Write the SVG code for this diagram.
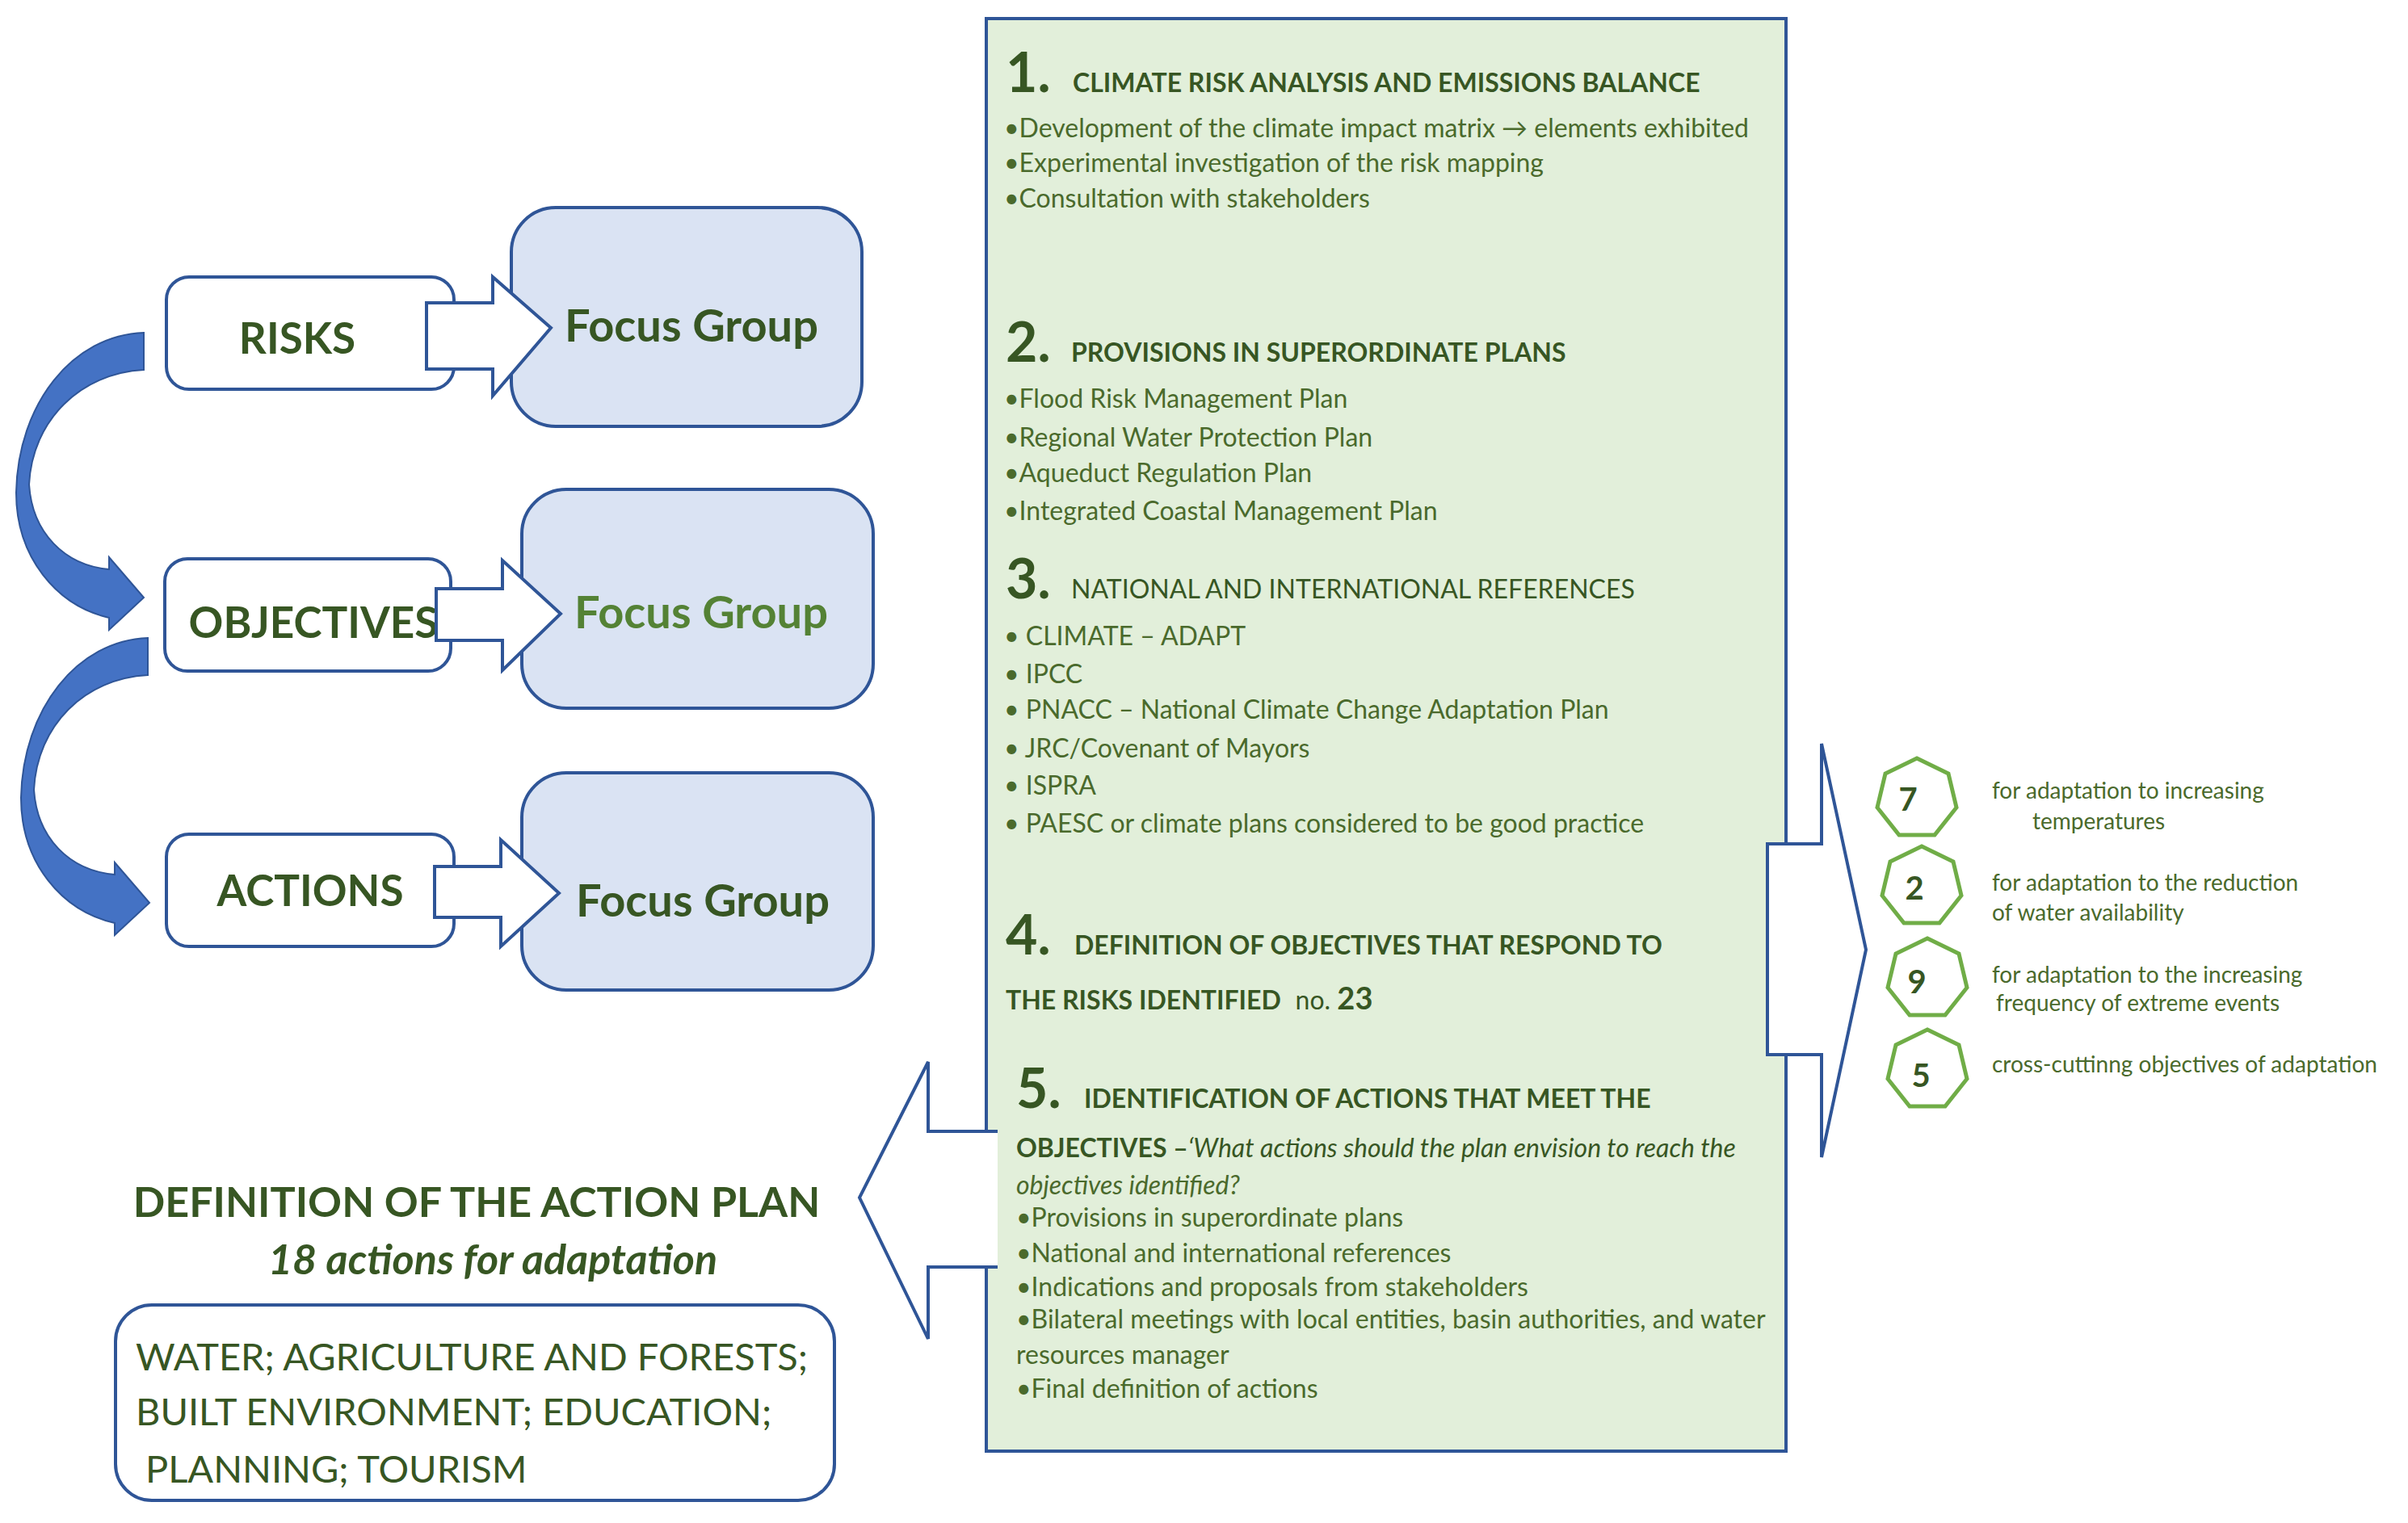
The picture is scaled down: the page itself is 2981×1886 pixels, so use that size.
<svg xmlns="http://www.w3.org/2000/svg" width="2981" height="1886" viewBox="0 0 2981 1886">
<style>
.bx{fill:#fff;stroke:#2f5597;stroke-width:4}
.fg{fill:#dae3f3;stroke:#2f5597;stroke-width:4}
.ar{fill:#fff;stroke:#2f5597;stroke-width:4;stroke-linejoin:miter}
.t{font-family:Lato,"Open Sans",sans-serif;fill:#375623}
.lb{font-size:53px;font-weight:bold;text-anchor:middle}
.fgt{font-size:56px;font-weight:bold;text-anchor:middle}
.num{font-size:68px;font-weight:bold}
.hd{font-size:32px;font-weight:bold}
.bl{font-size:32px;fill:#4a6a2c}
.hp{fill:#fff;stroke:#70ad47;stroke-width:5}
.hn{font-size:40px;font-weight:bold;text-anchor:middle}
.ht{font-size:28px;fill:#4a6a2c}
.curve{fill:#4472c4;stroke:#2f5597;stroke-width:2}
</style>
<rect x="0" y="0" width="2981" height="1886" fill="#fff"/>
<g id="main-box">
<rect x="1221" y="23" width="990" height="1774" fill="#e2efda" stroke="#2f5597" stroke-width="4"/>
<text class="t num" x="1245" y="114">1.</text>
<text class="t hd" x="1328" y="114">CLIMATE RISK ANALYSIS AND EMISSIONS BALANCE</text>
<text class="t bl" x="1243" y="170">•Development of the climate impact matrix → elements exhibited</text>
<text class="t bl" x="1243" y="213">•Experimental investigation of the risk mapping</text>
<text class="t bl" x="1243" y="257">•Consultation with stakeholders</text>
<text class="t num" x="1245" y="448">2.</text>
<text class="t hd" x="1326" y="448">PROVISIONS IN SUPERORDINATE PLANS</text>
<text class="t bl" x="1243" y="505">•Flood Risk Management Plan</text>
<text class="t bl" x="1243" y="553">•Regional Water Protection Plan</text>
<text class="t bl" x="1243" y="597">•Aqueduct Regulation Plan</text>
<text class="t bl" x="1243" y="644">•Integrated Coastal Management Plan</text>
<text class="t num" x="1245" y="741">3.</text>
<text class="t hd" x="1326" y="741" style="font-weight:normal">NATIONAL AND INTERNATIONAL REFERENCES</text>
<text class="t bl" x="1243" y="799">• CLIMATE – ADAPT</text>
<text class="t bl" x="1243" y="846">• IPCC</text>
<text class="t bl" x="1243" y="890">• PNACC – National Climate Change Adaptation Plan</text>
<text class="t bl" x="1243" y="938">• JRC/Covenant of Mayors</text>
<text class="t bl" x="1243" y="984">• ISPRA</text>
<text class="t bl" x="1243" y="1031">• PAESC or climate plans considered to be good practice</text>
<text class="t num" x="1245" y="1182">4.</text>
<text class="t hd" x="1330" y="1182" font-size="34">DEFINITION OF OBJECTIVES THAT RESPOND TO</text>
<text class="t hd" x="1245" y="1250" font-size="34">THE RISKS IDENTIFIED <tspan font-weight="normal" dx="10">no. </tspan><tspan font-size="38">23</tspan></text>
<text class="t num" x="1258" y="1372">5.</text>
<text class="t hd" x="1342" y="1372" font-size="35">IDENTIFICATION OF ACTIONS THAT MEET THE</text>
<text class="t hd" x="1258" y="1433">OBJECTIVES –<tspan font-style="italic" font-weight="normal">‘What actions should the plan envision to reach the</tspan></text>
<text class="t bl" x="1258" y="1479" font-style="italic">objectives identified?</text>
<text class="t bl" x="1258" y="1519">•Provisions in superordinate plans</text>
<text class="t bl" x="1258" y="1563">•National and international references</text>
<text class="t bl" x="1258" y="1605">•Indications and proposals from stakeholders</text>
<text class="t bl" x="1258" y="1645">•Bilateral meetings with local entities, basin authorities, and water</text>
<text class="t bl" x="1258" y="1689">resources manager</text>
<text class="t bl" x="1258" y="1731">•Final definition of actions</text>
</g>
<g id="risks"><rect class="bx" x="206" y="343" width="356" height="139" rx="28"/><text class="t lb" x="368" y="438">RISKS</text></g>
<g id="objectives"><rect class="bx" x="204" y="692" width="354" height="139" rx="28"/><text class="t lb" x="388" y="790">OBJECTIVES</text></g>
<g id="actions"><rect class="bx" x="206" y="1033" width="356" height="139" rx="28"/><text class="t lb" x="384" y="1122">ACTIONS</text></g>
<g id="fg1"><rect class="fg" x="633" y="257" width="434" height="271" rx="55"/><text class="t fgt" x="856" y="423">Focus Group</text></g>
<g id="fg2"><rect class="fg" x="646" y="606" width="435" height="271" rx="55"/><text class="t fgt" x="868" y="778" style="fill:#548235">Focus Group</text></g>
<g id="fg3"><rect class="fg" x="646" y="957" width="435" height="269" rx="55"/><text class="t fgt" x="870" y="1135">Focus Group</text></g>
<g id="hept7"><polygon class="hp" points="2373,939 2412,958 2422,1000 2395,1034 2351,1034 2324,1000 2334,958"/><text class="t hn" x="2362" y="1004">7</text>
<text class="t ht" x="2466" y="989">for adaptation to increasing</text><text class="t ht" x="2516" y="1027">temperatures</text></g>
<g id="hept2"><polygon class="hp" points="2379,1048 2418,1067 2428,1109 2401,1143 2357,1143 2330,1109 2340,1067"/><text class="t hn" x="2370" y="1114">2</text>
<text class="t ht" x="2466" y="1103">for adaptation to the reduction</text><text class="t ht" x="2466" y="1140">of water availability</text></g>
<g id="hept9"><polygon class="hp" points="2386,1162 2425,1181 2435,1223 2408,1257 2364,1257 2337,1223 2347,1181"/><text class="t hn" x="2373" y="1230">9</text>
<text class="t ht" x="2466" y="1217">for adaptation to the increasing</text><text class="t ht" x="2471" y="1252">frequency of extreme events</text></g>
<g id="hept5"><polygon class="hp" points="2386,1275 2425,1294 2435,1336 2408,1370 2364,1370 2337,1336 2347,1294"/><text class="t hn" x="2378" y="1346">5</text>
<text class="t ht" x="2466" y="1328">cross-cuttinng objectives of adaptation</text></g>
<g id="action-plan">
<text class="t" x="590" y="1507" font-size="52" font-weight="bold" text-anchor="middle">DEFINITION OF THE ACTION PLAN</text>
<text class="t" x="610" y="1578" font-size="52" font-weight="bold" font-style="italic" text-anchor="middle">18 actions for adaptation</text>
<rect class="bx" x="143" y="1616" width="890" height="242" rx="45"/>
<text class="t" x="168" y="1697" font-size="47">WATER; AGRICULTURE AND FORESTS;</text>
<text class="t" x="168" y="1765" font-size="47">BUILT ENVIRONMENT; EDUCATION;</text>
<text class="t" x="180" y="1836" font-size="47">PLANNING; TOURISM</text>
</g>
<g id="connectors">
<path class="ar" d="M2188,1045 H2255 V921 L2310,1176 L2255,1433 V1306 H2188 Z"/>
<path class="ar" d="M1235,1401 H1149 V1315 L1064,1483 L1149,1658 V1569 H1235"/>
<path class="ar" d="M528,375 H610 V343 L682,406 L610,490 V457 H528 Z"/>
<path class="ar" d="M540,729 H622 V694 L694,760 L622,830 V793 H540 Z"/>
<path class="ar" d="M538,1073 H620 V1040 L692,1106 L620,1172 V1136 H538 Z"/>
<path class="curve" d="M178,412 V458 C100,462 40,520 36,600 C40,660 80,700 135,705 V690 L178,740 L135,780 V765 C70,750 20,690 20,610 C22,500 90,415 178,412 Z"/>
<path class="curve" d="M183,790 V836 C105,840 46,898 42,978 C46,1038 86,1078 142,1083 V1068 L185,1118 L142,1158 V1143 C76,1128 26,1068 26,988 C28,878 96,793 183,790 Z"/>
</g>
</svg>
